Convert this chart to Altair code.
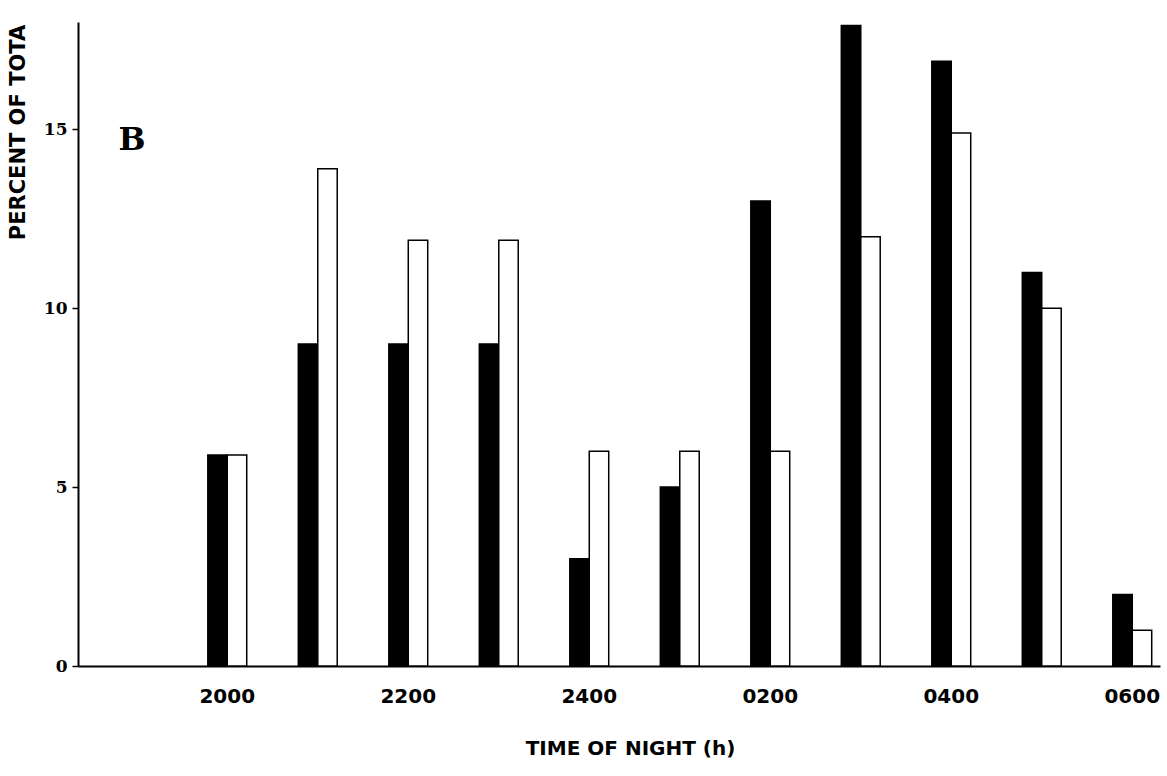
import altair as alt
import pandas as pd

# Data
times = ["2000", "2100", "2200", "2300", "2400", "0100", "0200", "0300", "0400", "0500", "0600"]
filled_vals = [5.9, 9.0, 9.0, 9.0, 3.0, 5.0, 13.0, 17.9, 16.9, 11.0, 2.0]
open_vals = [5.9, 13.9, 11.9, 11.9, 6.0, 6.0, 6.0, 12.0, 14.9, 10.0, 1.0]
series_names = ["filled", "open"]
x_tick_labels = ["2000", "2200", "2400", "0200", "0400", "0600"]
y_ticks = [0, 5, 10, 15]

rows = []
for t, f, o in zip(times, filled_vals, open_vals):
    rows.append({"time": t, "series": "filled", "value": f})
    rows.append({"time": t, "series": "open", "value": o})
df = pd.DataFrame(rows)

bars = alt.Chart(df).mark_bar(stroke="black", strokeWidth=1.5).encode(
    x=alt.X(
        "time:N",
        sort=times,
        scale=alt.Scale(paddingInner=0.57, paddingOuter=0.763, align=0.94),
        axis=alt.Axis(
            values=x_tick_labels,
            labelAngle=0,
            ticks=False,
            grid=False,
            domainColor="black",
            domainWidth=2,
            labelFont="DejaVu Sans",
            labelFontWeight="bold",
            labelFontSize=20,
            labelColor="black",
            labelPadding=20,
            title="TIME OF NIGHT (h)",
            titleFont="DejaVu Sans",
            titleFontWeight="bold",
            titleFontSize=20,
            titleColor="black",
            titleBaseline="middle",
            titleY=82,
            titleX=552,
        ),
    ),
    xOffset=alt.XOffset("series:N", sort=series_names, scale=alt.Scale(paddingInner=0)),
    y=alt.Y(
        "value:Q",
        scale=alt.Scale(domain=[0, 18], nice=False),
        axis=alt.Axis(
            values=y_ticks,
            grid=False,
            domainColor="black",
            domainWidth=2,
            tickColor="black",
            tickSize=6,
            tickWidth=1.5,
            labelFont="DejaVu Serif",
            labelFontWeight="bold",
            labelFontSize=17,
            labelColor="black",
            labelPadding=5,
            title="PERCENT OF TOTA",
            titleFont="DejaVu Sans",
            titleFontWeight="bold",
            titleFontSize=21,
            titleColor="black",
            titleAngle=270,
            titleAlign="center",
            titleBaseline="middle",
            titleX=-60,
            titleY=110,
        ),
    ),
    color=alt.Color(
        "series:N",
        scale=alt.Scale(domain=series_names, range=["black", "white"]),
        legend=None,
    ),
)

panel_label = alt.Chart(pd.DataFrame({"label": ["B"]})).mark_text(
    font="DejaVu Serif", fontWeight="bold", fontSize=32, color="black",
    align="center", baseline="middle",
).encode(text="label:N", x=alt.value(54), y=alt.value(118))

chart = alt.layer(bars, panel_label).properties(
    width=1082,
    height=644,
    autosize=alt.AutoSizeParams(type="none"),
    padding={"left": 78, "top": 22, "right": 7, "bottom": 110},
    background="white",
).configure_view(stroke=None)

chart.save("out.html", embed_options={"renderer": "svg", "actions": False})
